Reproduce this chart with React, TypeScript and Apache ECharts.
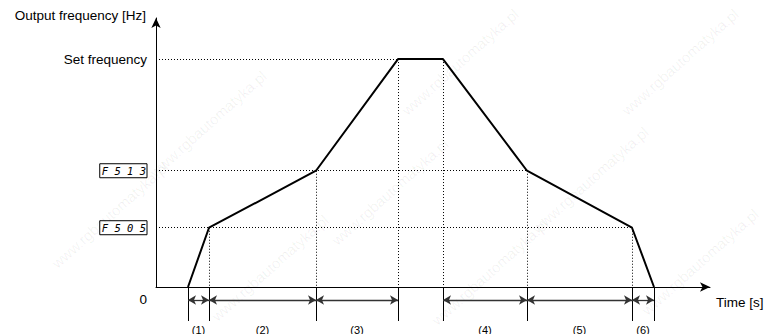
import React, { useEffect, useRef } from 'react';
import * as echarts from 'echarts';

// Time positions of the profile's corner points (arbitrary time units)
const times = [32, 53, 160, 242, 287, 371, 476, 498];
// Output frequency at each corner point (Set frequency = 100)
const freqs = [0, 26, 51, 100, 100, 51, 26, 0];
// Y axis tick values and their labels
const yTickValues = [0, 26, 51, 100];
const yTickLabels = ['0', 'F 5 0 5', 'F 5 1 3', 'Set frequency'];
// Interval arrows: start index into times (end = start + 1) and labels
const segmentStarts = [0, 1, 2, 4, 5, 6];
const segmentLabels = ['(1)', '(2)', '(3)', '(4)', '(5)', '(6)'];
const watermarkText = 'www.rgbautomatyka.pl';

const X_MAX = 554;
const Y_MAX = 118;
const FONT = "'Liberation Sans', Arial, sans-serif";

const watermarkSpots = [
  [208, 124], [460, 62], [680, 62],
  [390, 192], [590, 180], [110, 215],
  [270, 268], [490, 272], [700, 262],
];

export default function App() {
  const ref = useRef<HTMLDivElement>(null);
  useEffect(() => {
    if (!ref.current) return;
    const chart = echarts.init(ref.current, undefined, { renderer: 'svg' });

    const profile = times.map((t, i) => [t, freqs[i]]);

    // dotted guides
    const guides: any[] = [];
    yTickValues.forEach((v) => {
      if (v === 0) return;
      let last = -1;
      freqs.forEach((f, i) => { if (f === v) last = i; });
      if (last >= 0) guides.push([{ coord: [0, v] }, { coord: [times[last], v] }]);
    });
    times.forEach((t, i) => {
      if (freqs[i] > 0) guides.push([{ coord: [t, freqs[i]] }, { coord: [t, 0] }]);
    });

    const ticks = times.map((t) => [{ coord: [t, 0] }, { coord: [t, 34] }]);
    const arrows = segmentStarts.map((s, k) => [
      { coord: [times[s], 13], name: segmentLabels[k] },
      { coord: [times[s + 1], 13] },
    ]);

    const option: any = {
      animation: false,
      textStyle: { fontFamily: FONT },
      graphic: watermarkSpots.map(([x, y]) => ({
        type: 'text',
        x,
        y,
        rotation: Math.PI / 4.3,
        silent: true,
        z: -10,
        style: {
          text: watermarkText,
          fill: 'rgba(0,0,0,0.06)',
          font: `15px ${FONT}`,
          align: 'center',
          verticalAlign: 'middle',
        },
      })),
      grid: [
        { left: 156, right: 58, top: 18, bottom: 47 },
        { left: 156, right: 58, top: 287, bottom: 0 },
      ],
      xAxis: [
        {
          type: 'value',
          gridIndex: 0,
          min: 0,
          max: X_MAX,
          name: 'Time [s]',
          nameLocation: 'end',
          nameGap: 6,
          nameTextStyle: {
            color: '#000',
            fontSize: 13.5,
            fontFamily: FONT,
            align: 'left',
            verticalAlign: 'top',
            padding: [8, 0, 0, 0],
          },
          axisLine: {
            show: true,
            onZero: false,
            lineStyle: { color: '#000', width: 1 },
            symbol: ['none', 'arrow'],
            symbolSize: [7, 10],
          },
          axisTick: { show: false },
          axisLabel: { show: false },
          splitLine: { show: false },
        },
        {
          type: 'value',
          gridIndex: 1,
          min: 0,
          max: X_MAX,
          show: false,
        },
      ],
      yAxis: [
        {
          type: 'value',
          gridIndex: 0,
          min: 0,
          max: Y_MAX,
          name: 'Output frequency [Hz]',
          nameLocation: 'end',
          nameGap: 3,
          nameTextStyle: {
            color: '#000',
            fontSize: 13.5,
            fontFamily: FONT,
            align: 'right',
            verticalAlign: 'middle',
            padding: [0, 10, 0, 0],
          },
          axisLine: {
            show: true,
            onZero: false,
            lineStyle: { color: '#000', width: 1 },
            symbol: ['none', 'arrow'],
            symbolSize: [7, 10],
          },
          axisTick: { show: false },
          splitLine: { show: false },
          axisLabel: {
            show: true,
            customValues: yTickValues,
            margin: 9,
            color: '#000',
            formatter: (v: number) => {
              const idx = yTickValues.indexOf(v);
              if (idx < 0) return '';
              const lbl = yTickLabels[idx];
              if (idx === 0) return `{zero|${lbl}}`;
              if (lbl.startsWith('F')) return `{box|${lbl}}`;
              return `{txt|${lbl}}`;
            },
            rich: {
              zero: { fontSize: 13.5, fontFamily: FONT, color: '#000', padding: [24, 0, 0, 0] },
              txt: { fontSize: 13.5, fontFamily: FONT, color: '#000' },
              box: {
                fontSize: 10.5,
                lineHeight: 12,
                fontFamily: "'DejaVu Sans Mono', monospace",
                fontStyle: 'italic',
                color: '#000',
                borderColor: '#000',
                borderWidth: 1,
                padding: [2, 1, 1, 2],
              },
            },
          },
        },
        {
          type: 'value',
          gridIndex: 1,
          min: 0,
          max: 47,
          inverse: true,
          show: false,
        },
      ],
      series: [
        {
          type: 'line',
          xAxisIndex: 0,
          yAxisIndex: 0,
          data: profile,
          showSymbol: false,
          symbol: 'none',
          clip: false,
          lineStyle: { color: '#000', width: 2 },
          z: 3,
          markLine: {
            silent: true,
            symbol: 'none',
            label: { show: false },
            lineStyle: { color: '#000', width: 1, type: [1, 2] },
            emphasis: { disabled: true },
            data: guides,
            z: 1,
          },
        },
        {
          type: 'line',
          xAxisIndex: 1,
          yAxisIndex: 1,
          data: [],
          markLine: {
            silent: true,
            symbol: 'none',
            label: { show: false },
            lineStyle: { color: '#000', width: 1, type: 'solid' },
            emphasis: { disabled: true },
            data: ticks,
          },
        },
        {
          type: 'line',
          xAxisIndex: 1,
          yAxisIndex: 1,
          data: [],
          markLine: {
            silent: true,
            symbol: ['arrow', 'arrow'],
            symbolSize: [7, 8],
            lineStyle: { color: '#333', width: 1.3, type: 'solid' },
            emphasis: { disabled: true },
            label: {
              show: true,
              position: 'insideMiddleBottom',
              distance: 24,
              formatter: '{b}',
              color: '#000',
              fontSize: 11,
              fontFamily: FONT,
            },
            data: arrows,
          },
        },
      ],
    };

    chart.setOption(option);
    return () => chart.dispose();
  }, []);

  return (
    <div
      ref={ref}
      style={{ position: 'absolute', left: 0, top: 0, width: 768, height: 334 }}
    />
  );
}
